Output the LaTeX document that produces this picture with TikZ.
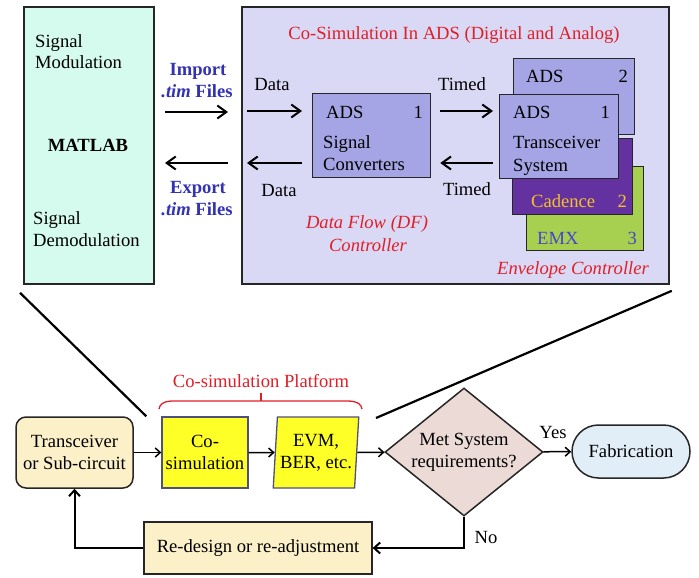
\documentclass[tikz,border=0pt]{standalone}
\usepackage{fontspec}
\setmainfont{Liberation Serif}
\usetikzlibrary{shapes.geometric,arrows.meta,positioning}

\definecolor{matlabfill}{RGB}{212,251,237}
\definecolor{adsfill}{RGB}{217,217,245}
\definecolor{blockfill}{RGB}{165,165,230}
\definecolor{cadfill}{RGB}{100,50,160}
\definecolor{emxfill}{RGB}{168,208,80}
\definecolor{cadtext}{RGB}{245,192,40}
\definecolor{emxtext}{RGB}{70,70,200}
\definecolor{tblue}{RGB}{50,50,180}
\definecolor{tred}{RGB}{225,30,40}
\definecolor{tanfill}{RGB}{252,240,200}
\definecolor{yel}{RGB}{255,255,40}
\definecolor{slate}{RGB}{80,80,125}
\definecolor{pinkfill}{RGB}{235,218,214}
\definecolor{fabfill}{RGB}{225,238,248}

\begin{document}
\begin{tikzpicture}[x=1pt,y=-1pt,
    font=\fontsize{18.6}{22}\selectfont,
    txt/.style={inner sep=0pt},
    panel/.style={draw=black!85, line width=1.8pt, anchor=north west, inner sep=0pt},
    blk/.style={draw=black!85, line width=1.3pt, anchor=north west, inner sep=0pt},
    flowbox/.style={draw=black!85, line width=1.5pt, align=center, inner sep=0pt},
    arr/.style={-{Straight Barb[length=9pt,width=13pt]}, line width=2pt},
    flow/.style={-{Straight Barb[length=5pt,width=9pt]}, line width=1.5pt},
    loop/.style={-{Straight Barb[length=6pt,width=11pt]}, line width=2pt}]
  \useasboundingbox (0,0) rectangle (699,578);

  % MATLAB side
  \node[panel, fill=matlabfill, minimum width=130, minimum height=277] (matlab) at (23,6) {};
  \node[txt, anchor=base west] (smod1) at (35,47.5) {Signal};
  \node[txt, anchor=base west] (smod2) at (35,69) {Modulation};
  \node[txt, anchor=base, font=\fontsize{18.6}{22}\selectfont\bfseries] (mlab) at (88,151) {MATLAB};
  \node[txt, anchor=base west] (sdem1) at (33,224) {Signal};
  \node[txt, anchor=base west] (sdem2) at (33,246.5) {Demodulation};

  % import / export
  \node[txt, anchor=base, text=tblue, font=\fontsize{18.6}{22}\selectfont\bfseries] (imp1) at (198,76) {Import};
  \node[txt, anchor=base, text=tblue, font=\fontsize{18.6}{22}\selectfont\bfseries] (imp2) at (197,97) {\textit{.tim} Files};
  \node[txt, anchor=base, text=tblue, font=\fontsize{18.6}{22}\selectfont\bfseries] (exp1) at (198,193) {Export};
  \node[txt, anchor=base, text=tblue, font=\fontsize{18.6}{22}\selectfont\bfseries] (exp2) at (197,215) {\textit{.tim} Files};
  \coordinate (impA) at (165,112);
  \coordinate (impB) at (228,112);
  \coordinate (expA) at (228,163);
  \coordinate (expB) at (165,163);
  \draw[arr] (impA) -- (impB);
  \draw[arr] (expA) -- (expB);

  % ADS co-simulation
  \node[panel, fill=adsfill, minimum width=427, minimum height=277] (ads) at (241,6) {};
  \node[txt, anchor=base, text=tred] (adstitle) at (454,40) {Co-Simulation In ADS (Digital and Analog)};

  \node[blk, fill=blockfill, minimum width=118, minimum height=84] (sigconv) at (312,93) {};
  \node[txt, anchor=base west] (sc1) at (326,118) {ADS};
  \node[txt, anchor=base east] (scn) at (423,118) {1};
  \node[txt, anchor=base west] (sc2) at (323,148) {Signal};
  \node[txt, anchor=base west] (sc3) at (323,170) {Converters};

  \node[blk, fill=emxfill, minimum width=117, minimum height=84] (emx) at (526,166) {};
  \node[txt, anchor=base west, text=emxtext] (emx1) at (537,244) {EMX};
  \node[txt, anchor=base east, text=emxtext] (emxn) at (637,244) {3};
  \node[blk, fill=cadfill, minimum width=120, minimum height=76] (cad) at (512,138) {};
  \node[txt, anchor=base west, text=cadtext] (cad1) at (531,207) {Cadence};
  \node[txt, anchor=base east, text=cadtext] (cadn) at (627,207) {2};
  \node[blk, fill=blockfill, minimum width=121, minimum height=76] (ads2) at (513,58) {};
  \node[txt, anchor=base west] (ads21) at (526,83) {ADS};
  \node[txt, anchor=base east] (ads2n) at (628,83) {2};
  \node[blk, fill=blockfill, minimum width=119, minimum height=84] (txsys) at (499,94) {};
  \node[txt, anchor=base west] (tx1) at (513,118) {ADS};
  \node[txt, anchor=base east] (txn) at (610,118) {1};
  \node[txt, anchor=base west] (tx2) at (513,148) {Transceiver};
  \node[txt, anchor=base west] (tx3) at (513,171) {System};

  \coordinate (din) at (247,111);
  \coordinate (dout) at (247,163);
  \draw[arr, shorten >=10pt] (din) -- (din -| sigconv.west);
  \draw[arr, shorten <=10pt] (dout -| sigconv.west) -- (dout);
  \draw[arr, shorten <=9pt, shorten >=6pt] (din -| sigconv.east) -- (din -| txsys.west);
  \draw[arr, shorten <=6pt, shorten >=9pt] (dout -| txsys.west) -- (dout -| sigconv.east);
  \node[txt, anchor=base] (data1) at (272,91) {Data};
  \node[txt, anchor=base] (data2) at (279,196) {Data};
  \node[txt, anchor=base] (timed1) at (462,90) {Timed};
  \node[txt, anchor=base] (timed2) at (467,195) {Timed};
  \node[txt, anchor=base, text=tred, font=\fontsize{18.6}{22}\selectfont\itshape] (df1) at (367,228) {Data Flow (DF)};
  \node[txt, anchor=base, text=tred, font=\fontsize{18.6}{22}\selectfont\itshape] (df2) at (368,251) {Controller};
  \node[txt, anchor=base, text=tred, font=\fontsize{18.6}{22}\selectfont\itshape] (envc) at (573,274) {Envelope Controller};

  % flow chart
  \node[flowbox, fill=tanfill, rounded corners=10pt, minimum width=117, minimum height=71] (trx) at (74.5,452.5) {Transceiver\\or Sub-circuit};
  \node[flowbox, fill=yel, draw=slate, line width=1.3pt, minimum width=86, minimum height=71] (cosim) at (205,452.5) {Co-\\simulation};
  \node[flowbox, fill=yel, draw=slate, line width=1.3pt, trapezium, trapezium left angle=84, trapezium right angle=96, trapezium stretches=true, minimum width=86, minimum height=71] (evm) at (316,452.5) {EVM,\\BER, etc.};
  \node[flowbox, fill=pinkfill, diamond, aspect=1.23, minimum width=158, minimum height=128] (met) at (464,452) {Met System\\requirements?};
  \node[flowbox, fill=fabfill, rounded corners=26.5pt, minimum width=118, minimum height=53] (fab) at (631,451.5) {Fabrication};
  \node[flowbox, fill=tanfill, line width=1.3pt, minimum width=228, minimum height=52] (redesign) at (258,548) {Re-design or re-adjustment};

  \draw[flow] (trx) -- (cosim);
  \draw[flow] (cosim) -- (evm);
  \draw[flow] (evm) -- (met);
  \draw[flow] (met) -- (fab);
  \draw[loop] (met.south) |- (redesign.east);
  \draw[loop] (redesign.west) -| (trx.south);
  \node[txt, anchor=base] (yes) at (553,438) {Yes};
  \node[txt, anchor=base] (no) at (486,543) {No};

  % platform brace
  \draw[tred, line width=1.3pt] (159,409) to[out=80,in=180] (182,401) -- (340,401) to[out=0,in=100] (362,409);
  \draw[tred, line width=1.3pt] (261,401) -- (261,393);
  \node[txt, anchor=base, text=tred] (plat) at (261,387) {Co-simulation Platform};

  % zoom lines
  \draw[line width=2.2pt] ([shift={(-3pt,-8pt)}]matlab.south west) -- ([xshift=-15pt]cosim.north west);
  \draw[line width=2.2pt] ([shift={(2pt,-6pt)}]ads.south east) -- (376,418);
\end{tikzpicture}
\end{document}
